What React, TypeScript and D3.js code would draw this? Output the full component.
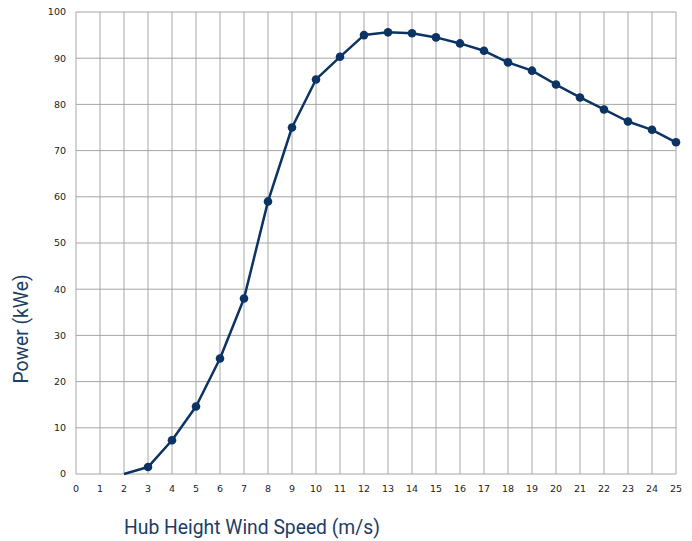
import React from "react";
import * as d3 from "d3";

const windSpeeds = [2, 3, 4, 5, 6, 7, 8, 9, 10, 11, 12, 13, 14, 15, 16, 17, 18, 19, 20, 21, 22, 23, 24, 25];
const powerKWe = [0, 1.5, 7.3, 14.6, 25.0, 38.0, 59.0, 75.0, 85.4, 90.3, 95.0, 95.6, 95.4, 94.5, 93.2, 91.6, 89.1, 87.3, 84.3, 81.5, 78.9, 76.3, 74.5, 71.8];
const xTicks = d3.range(0, 26);
const yTicks = d3.range(0, 101, 10);

const W = 692;
const H = 541;
const M = { left: 76, right: 16, top: 12, bottom: 67 };

export default function App() {
  const x = d3.scaleLinear().domain([0, 25]).range([M.left, W - M.right]);
  const y = d3.scaleLinear().domain([0, 100]).range([H - M.bottom, M.top]);
  const pts = windSpeeds.map((w, i) => [w, powerKWe[i]] as [number, number]);
  const line = d3.line<[number, number]>().x((d) => x(d[0])).y((d) => y(d[1]));
  const color = "#0b3363";
  const grid = "#a6a6a6";
  return (
    <svg width={W} height={H} style={{ position: "absolute", left: 0, top: 0 }}>
      <rect width={W} height={H} fill="#fff" />
      {xTicks.map((t) => (
        <line key={"gx" + t} x1={x(t)} x2={x(t)} y1={y(0)} y2={y(100)} stroke={grid} strokeWidth={1} />
      ))}
      {yTicks.map((t) => (
        <line key={"gy" + t} x1={x(0)} x2={x(25)} y1={y(t)} y2={y(t)} stroke={grid} strokeWidth={1} />
      ))}
      {yTicks.map((t) => (
        <text key={"ty" + t} x={x(0) - 10} y={y(t)} dy="0.35em" textAnchor="end" fontFamily="DejaVu Sans, Verdana" fontSize={9.5} fill="#222">
          {t}
        </text>
      ))}
      {xTicks.map((t) => (
        <text key={"tx" + t} x={x(t)} y={y(0) + 18} textAnchor="middle" fontFamily="DejaVu Sans, Verdana" fontSize={9.5} fill="#222">
          {t}
        </text>
      ))}
      <path d={line(pts) || ""} fill="none" stroke={color} strokeWidth={2.5} strokeLinejoin="round" />
      {pts.filter((p) => p[1] > 0).map((p) => (
        <circle key={"c" + p[0]} cx={x(p[0])} cy={y(p[1])} r={4.3} fill={color} />
      ))}
      <text x={252} y={534} textAnchor="middle" fontFamily="Roboto, Open Sans" fontSize={19.3} fill="#1d3d63">
        Hub Height Wind Speed (m/s)
      </text>
      <text transform={`translate(28, 329) rotate(-90)`} textAnchor="middle" fontFamily="Roboto, Open Sans" fontSize={19.3} fill="#1d3d63">
        Power (kWe)
      </text>
    </svg>
  );
}
